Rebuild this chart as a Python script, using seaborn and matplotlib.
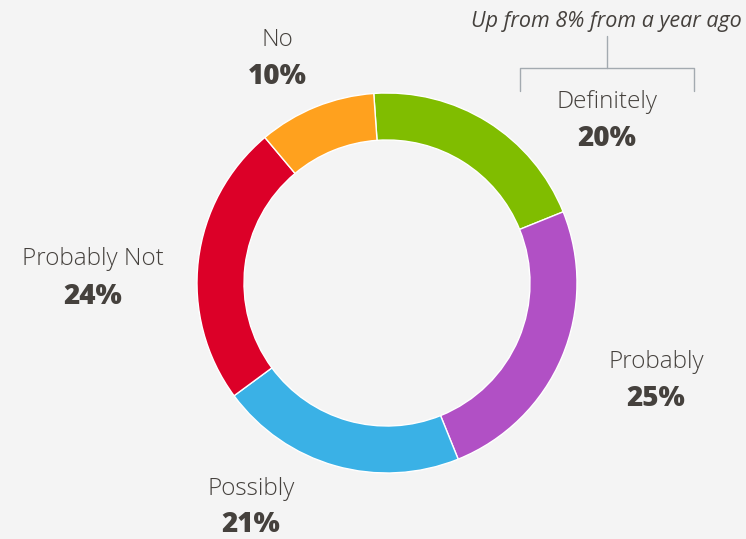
import matplotlib
matplotlib.use("Agg")
import matplotlib.pyplot as plt
import seaborn as sns

# survey answers, clockwise from 12 o'clock
answers = ["Definitely", "Probably", "Possibly", "Probably Not", "No"]
shares = [20, 25, 21, 24, 10]
colours = ["#80bd00", "#b150c5", "#3ab1e6", "#dc0028", "#ffa11e"]
note = "Up from 8% from a year ago"

sns.set_style("white", {"axes.facecolor": "#f4f4f4", "figure.facecolor": "#f4f4f4"})
plt.rcParams["font.family"] = ["Open Sans", "DejaVu Sans"]

W, H = 746, 539
fig = plt.figure(figsize=(W / 100, H / 100), dpi=100)
ax = fig.add_axes([0, 0, 1, 1])

cx, cy, r = 387, H - 283, 190
ax.pie(shares, colors=colours, startangle=94, counterclock=False,
       center=(cx, cy), radius=r, frame=True,
       wedgeprops=dict(width=47, edgecolor="white", linewidth=1))
ax.set_xlim(0, W)
ax.set_ylim(0, H)
ax.set_aspect("equal")
ax.axis("off")

# label positions (pixels from top-left)
spots = {"Definitely": (607, 102), "Probably": (656, 362), "Possibly": (251, 489),
         "Probably Not": (93, 259), "No": (277, 40)}
txt = "#45413d"
for name, val in zip(answers, shares):
    x, y = spots[name]
    gap = 35 if name == "Possibly" else 37
    ax.text(x, H - y, name, ha="center", va="center", fontsize=17.5,
            fontweight="light", color=txt)
    ax.text(x, H - y - gap, f"{val}%", ha="center", va="center", fontsize=20,
            fontweight="heavy", color=txt)

ax.text(606, H - 22, note, ha="center", va="center", fontsize=15.5,
        style="italic", color=txt)
grey = "#a3aab0"
ax.plot([607, 607], [H - 36, H - 68], color=grey, lw=1)
ax.plot([520, 520, 694, 694], [H - 91, H - 68, H - 68, H - 91], color=grey, lw=1)

fig.savefig("out.png", dpi=100, facecolor=fig.get_facecolor())
